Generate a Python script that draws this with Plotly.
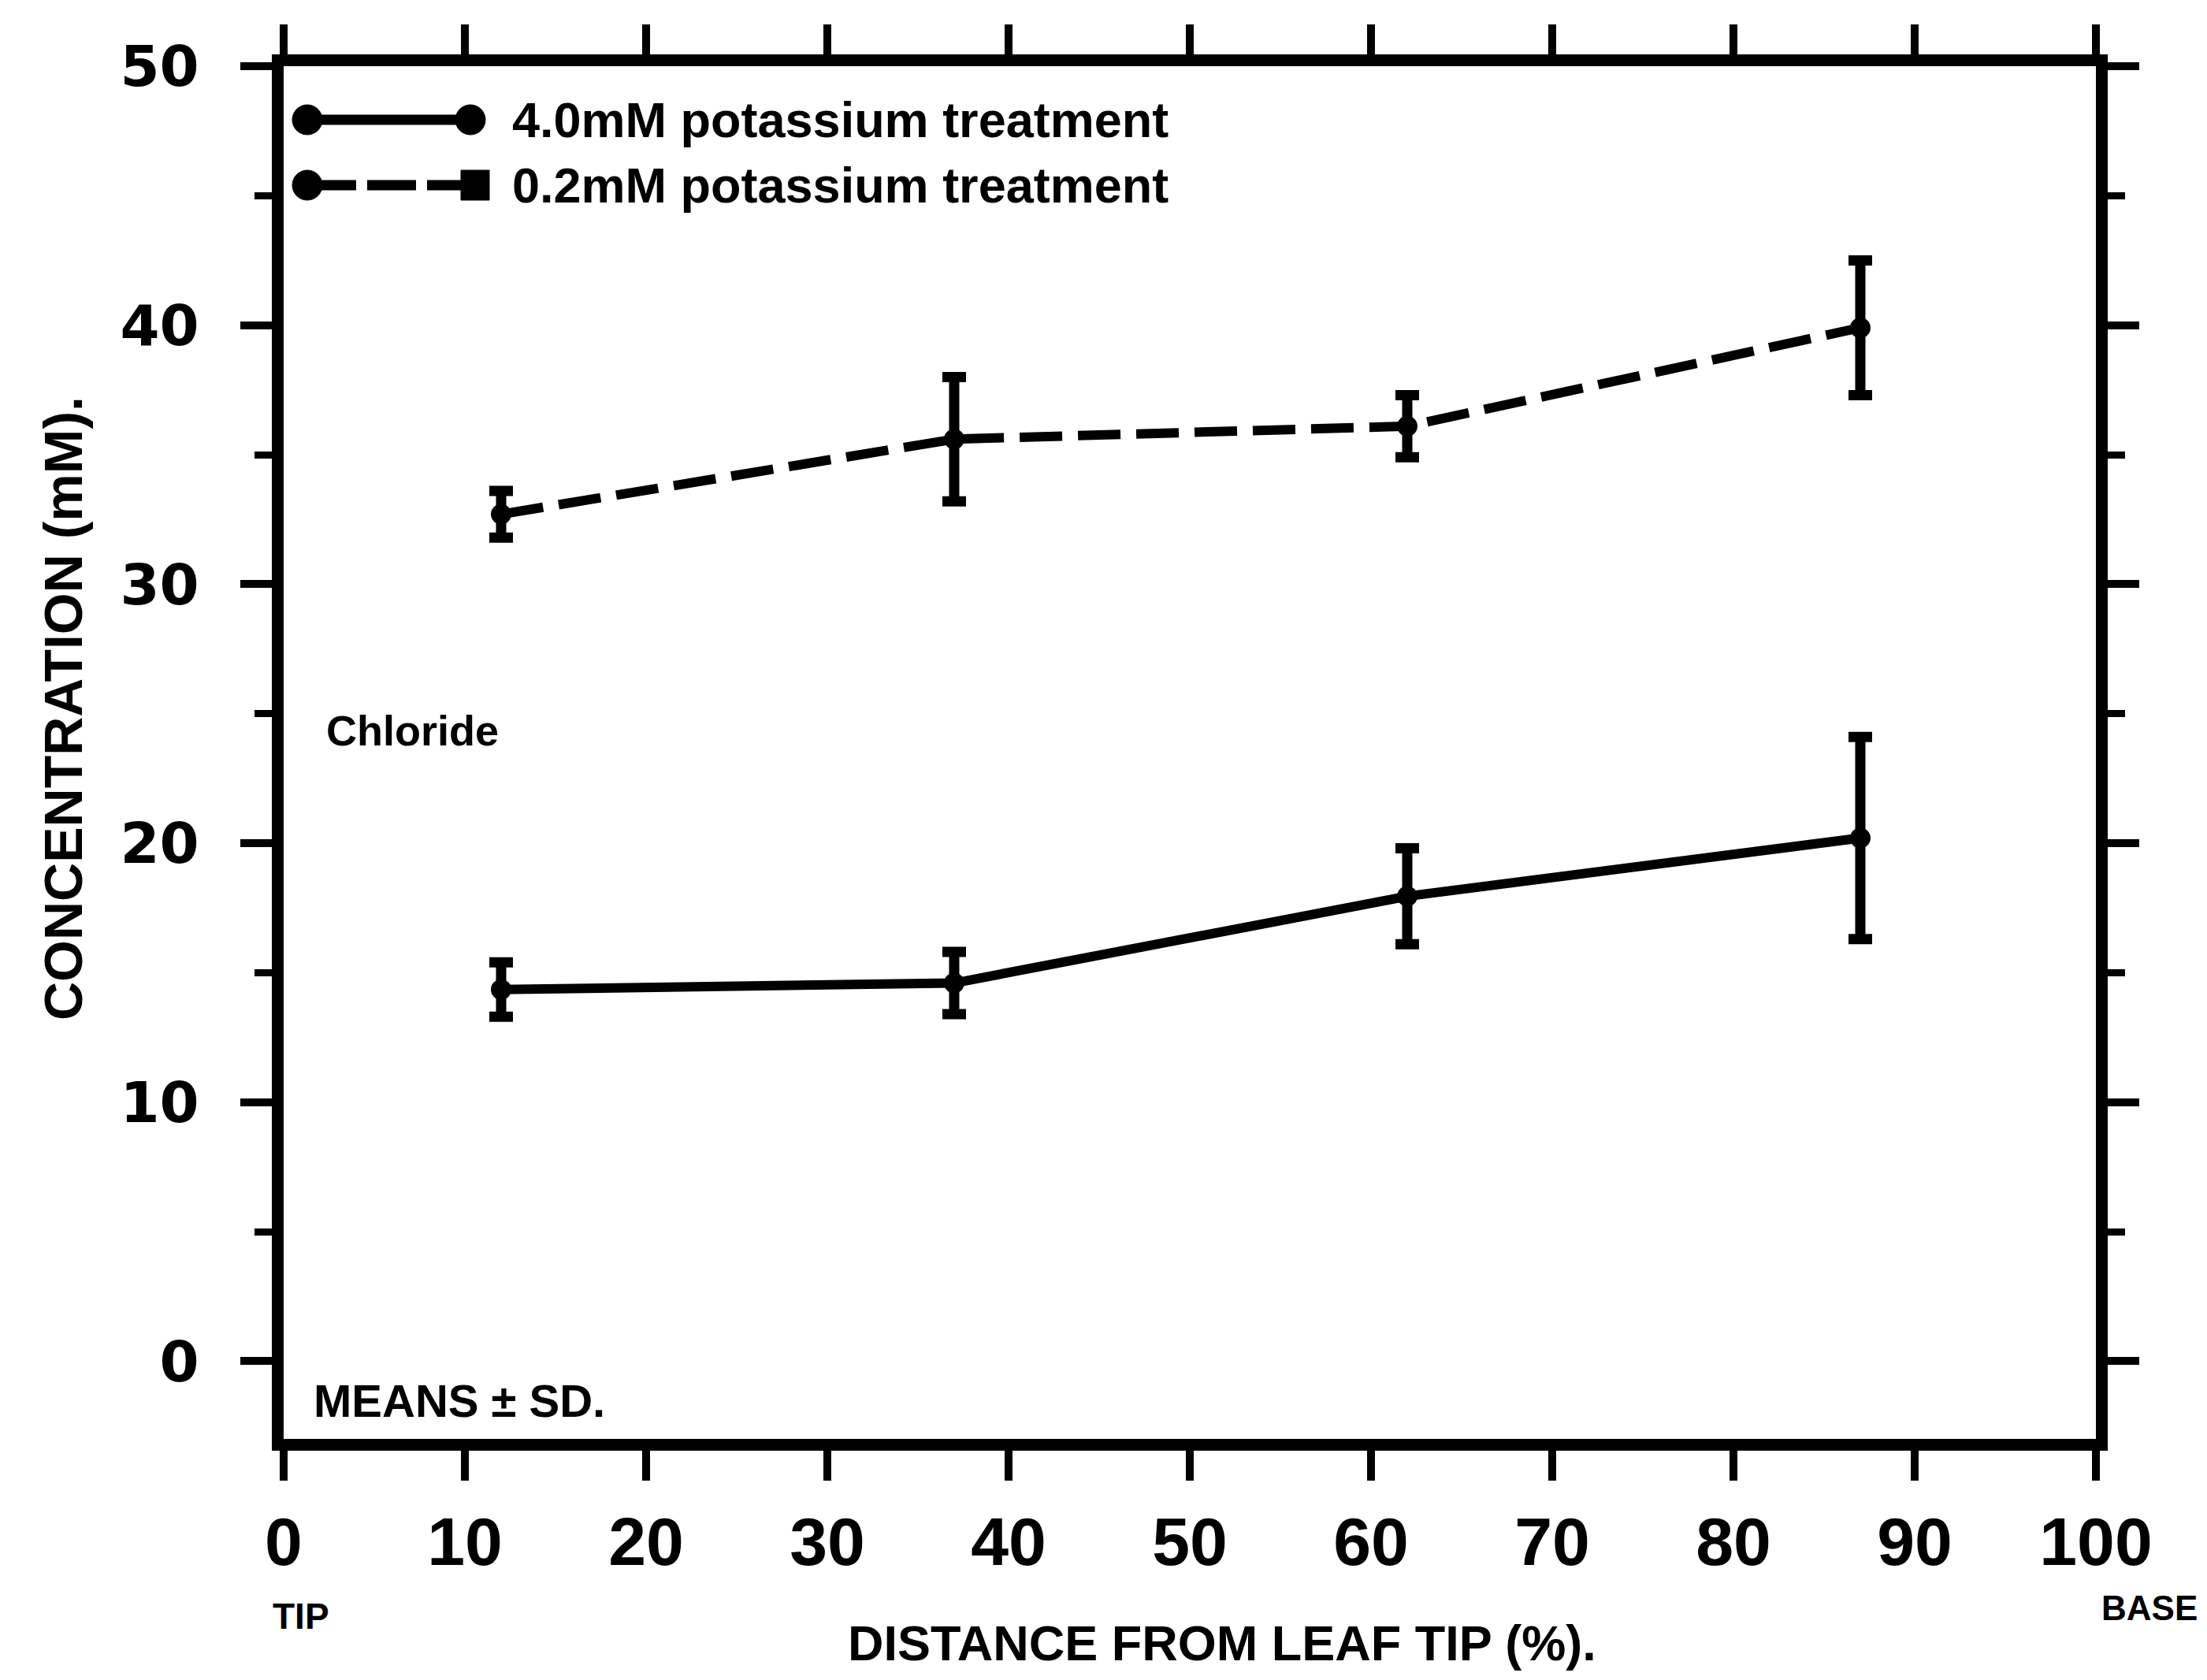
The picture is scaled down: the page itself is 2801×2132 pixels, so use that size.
import plotly.graph_objects as go

# Data
distance = [12, 37, 62, 87]
k40_mean = [14.35, 14.6, 17.95, 20.2]
k40_sd = [1.05, 1.2, 1.85, 3.9]
k02_mean = [32.7, 35.6, 36.1, 39.9]
k02_sd = [0.9, 2.4, 1.2, 2.6]
x_ticks = [0, 10, 20, 30, 40, 50, 60, 70, 80, 90, 100]
y_ticks = [0, 10, 20, 30, 40, 50]
legend_labels = ["4.0mM potassium treatment", "0.2mM potassium treatment"]

W, H = 2801, 2132
L, R, T, B = 360, 141, 84, 306
pw, ph = W - L - R, H - T - B

def px(xp):
    return (xp - L) / pw

def py(yp):
    return (H - B - yp) / ph

fig = go.Figure()

fig.add_trace(go.Scatter(
    x=distance, y=k02_mean, mode="lines+markers",
    line=dict(color="black", width=12, dash="54px,20px"),
    marker=dict(color="black", size=26, symbol="circle"),
    error_y=dict(type="data", array=k02_sd, visible=True, color="black", thickness=13, width=15),
    showlegend=False,
))
fig.add_trace(go.Scatter(
    x=distance, y=k40_mean, mode="lines+markers",
    line=dict(color="black", width=12),
    marker=dict(color="black", size=26, symbol="circle"),
    error_y=dict(type="data", array=k40_sd, visible=True, color="black", thickness=13, width=15),
    showlegend=False,
))

bold = dict(family="Liberation Sans", color="black", weight="bold")

fig.update_xaxes(
    range=[0, 100], tickvals=x_ticks, ticktext=[str(v) for v in x_ticks],
    showline=True, linewidth=15, linecolor="black", mirror="ticks",
    ticks="outside", ticklen=38, tickwidth=10, tickcolor="black",
    showgrid=False, zeroline=False,
    tickfont=dict(size=86, **bold), ticklabelstandoff=4,
)
fig.update_yaxes(
    range=[-3, 50], tickvals=y_ticks, ticktext=[str(v) for v in y_ticks],
    showline=True, linewidth=15, linecolor="black", mirror="ticks",
    ticks="outside", ticklen=40, tickwidth=10, tickcolor="black",
    minor=dict(dtick=5, tick0=0, ticks="outside", ticklen=22, tickwidth=9, tickcolor="black", showgrid=False),
    showgrid=False, zeroline=False,
    tickfont=dict(size=72, family="DejaVu Sans", color="black", weight="bold"), ticklabelstandoff=38,
)

ann = []
ann.append(dict(text="CONCENTRATION (mM).", x=px(80), y=py(899), xref="paper", yref="paper",
                textangle=-90, showarrow=False, font=dict(size=68, **bold),
                xanchor="center", yanchor="middle"))
ann.append(dict(text="DISTANCE FROM LEAF TIP (%).", x=px(1551), y=py(2085), xref="paper", yref="paper",
                showarrow=False, font=dict(size=63, **bold), xanchor="center", yanchor="middle"))
ann.append(dict(text="TIP", x=px(382), y=py(2051), xref="paper", yref="paper",
                showarrow=False, font=dict(size=46, **bold), xanchor="center", yanchor="middle"))
ann.append(dict(text="BASE", x=px(2728), y=py(2040), xref="paper", yref="paper",
                showarrow=False, font=dict(size=44, **bold), xanchor="center", yanchor="middle"))
ann.append(dict(text="MEANS ± SD.", x=px(396), y=py(1777), xref="paper", yref="paper",
                showarrow=False, font=dict(size=58, **bold), xanchor="left", yanchor="middle"))
ann.append(dict(text="Chloride", x=px(412), y=py(927), xref="paper", yref="paper",
                showarrow=False, font=dict(size=54, **bold), xanchor="left", yanchor="middle"))
for lbl, yy in zip(legend_labels, [152, 235]):
    ann.append(dict(text=lbl, x=px(648), y=py(yy), xref="paper", yref="paper",
                    showarrow=False, font=dict(size=63, **bold), xanchor="left", yanchor="middle"))

shapes = []
# legend sample 1: solid line with circles
shapes.append(dict(type="line", xref="paper", yref="paper", x0=px(390), x1=px(597), y0=py(152), y1=py(152),
                   line=dict(color="black", width=13)))
for cx in [390, 597]:
    shapes.append(dict(type="circle", xref="paper", yref="paper", xsizemode="pixel", ysizemode="pixel",
                       xanchor=px(cx), yanchor=py(152), x0=-19, x1=19, y0=-19, y1=19,
                       fillcolor="black", line=dict(color="black", width=1)))
# legend sample 2: dashed line with circle and square
shapes.append(dict(type="line", xref="paper", yref="paper", x0=px(390), x1=px(600), y0=py(235), y1=py(235),
                   line=dict(color="black", width=13, dash="62px,14px")))
shapes.append(dict(type="circle", xref="paper", yref="paper", xsizemode="pixel", ysizemode="pixel",
                   xanchor=px(390), yanchor=py(235), x0=-19, x1=19, y0=-19, y1=19,
                   fillcolor="black", line=dict(color="black", width=1)))
shapes.append(dict(type="rect", xref="paper", yref="paper", xsizemode="pixel", ysizemode="pixel",
                   xanchor=px(603), yanchor=py(235), x0=-18, x1=18, y0=-19, y1=19,
                   fillcolor="black", line=dict(color="black", width=1)))

fig.update_layout(
    width=W, height=H,
    margin=dict(l=L, r=R, t=T, b=B),
    paper_bgcolor="white", plot_bgcolor="white",
    annotations=ann, shapes=shapes, showlegend=False,
)

fig.write_html("out.html")
